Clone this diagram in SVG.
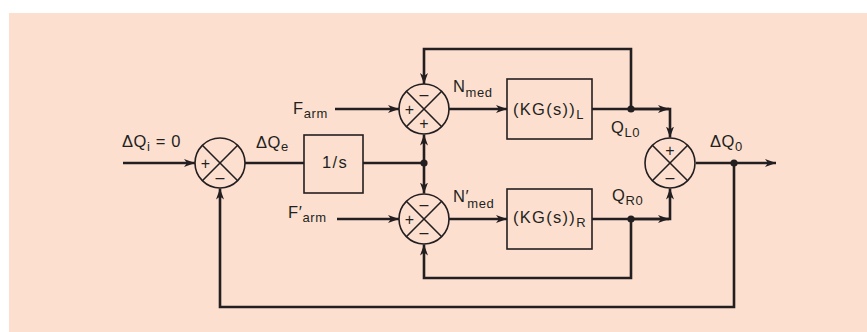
<svg xmlns="http://www.w3.org/2000/svg" width="867" height="332" viewBox="0 0 867 332">
<defs>
<marker id="arr" markerUnits="userSpaceOnUse" markerWidth="12" markerHeight="9" refX="11" refY="4.5" orient="auto">
<path d="M0,0.5 L11,4.5 L0,8.5 L3,4.5 z" fill="#231f20"/>
</marker>
<style>
.bg{fill:#fddfd0}
.wire{fill:none;stroke:#231f20;stroke-width:2.6;stroke-linejoin:miter}
.blk{fill:none;stroke:#231f20;stroke-width:1.6}
.sum{fill:none;stroke:#231f20;stroke-width:1.6}
.dot{fill:#231f20}
text{font-family:"Liberation Sans",Arial,sans-serif;fill:#231f20}
.lbl{font-size:16.5px;letter-spacing:0.6px}
.box{font-size:16.5px;letter-spacing:1.3px}
.sg{font-size:16px;text-anchor:middle}
.sub{font-size:13px}
</style>
</defs>
<rect class="bg" x="9" y="13" width="858" height="319"/>

<g id="connectors">
<line class="wire" x1="123" y1="163" x2="195" y2="163" marker-end="url(#arr)"/>
<line class="wire" x1="245" y1="163" x2="304" y2="163"/>
<line class="wire" x1="363" y1="163" x2="424" y2="163"/>
<line class="wire" x1="424" y1="163" x2="424" y2="134.5" marker-end="url(#arr)"/>
<line class="wire" x1="424" y1="163" x2="424" y2="193.5" marker-end="url(#arr)"/>
<line class="wire" x1="335" y1="109" x2="399" y2="109" marker-end="url(#arr)"/>
<line class="wire" x1="337" y1="219" x2="399" y2="219" marker-end="url(#arr)"/>
<line class="wire" x1="449" y1="109" x2="507" y2="109" marker-end="url(#arr)"/>
<line class="wire" x1="449" y1="219" x2="507" y2="219" marker-end="url(#arr)"/>
<polyline class="wire" points="592,109 670,109 670,137.5" marker-end="url(#arr)"/>
<line class="wire" x1="631" y1="109" x2="669" y2="109" marker-end="url(#arr)"/>
<polyline class="wire" points="631,109 631,49 424,49 424,84" marker-end="url(#arr)"/>
<polyline class="wire" points="592,219 670,219 670,188.5" marker-end="url(#arr)"/>
<line class="wire" x1="631" y1="219" x2="669" y2="219" marker-end="url(#arr)"/>
<polyline class="wire" points="631,219 631,278 424,278 424,244.5" marker-end="url(#arr)"/>
<line class="wire" x1="696" y1="163" x2="776" y2="163" marker-end="url(#arr)"/>
<polyline class="wire" points="734,163 734,307 220,307 220,188.5" marker-end="url(#arr)"/>
<circle class="dot" cx="424" cy="163" r="3.6"/>
<circle class="dot" cx="631" cy="109" r="3.6"/>
<circle class="dot" cx="631" cy="219" r="3.6"/>
<circle class="dot" cx="734" cy="163" r="3.6"/>
</g>

<g id="sum1">
<circle class="sum" cx="220" cy="163" r="25"/>
<line class="sum" x1="202.3" y1="145.3" x2="237.7" y2="180.7"/>
<line class="sum" x1="237.7" y1="145.3" x2="202.3" y2="180.7"/>
<text class="sg" x="205.5" y="168.5">+</text>
<text class="sg" x="220" y="183">–</text>
</g>

<g id="integrator">
<rect class="blk" x="304" y="135" width="59" height="58"/>
<text class="box" x="335" y="168" text-anchor="middle">1/s</text>
</g>

<g id="sumL">
<circle class="sum" cx="424" cy="109" r="25"/>
<line class="sum" x1="406.3" y1="91.3" x2="441.7" y2="126.7"/>
<line class="sum" x1="441.7" y1="91.3" x2="406.3" y2="126.7"/>
<text class="sg" x="424" y="100">–</text>
<text class="sg" x="409.5" y="114.5">+</text>
<text class="sg" x="424" y="129">+</text>
</g>

<g id="sumR">
<circle class="sum" cx="424" cy="219" r="25"/>
<line class="sum" x1="406.3" y1="201.3" x2="441.7" y2="236.7"/>
<line class="sum" x1="441.7" y1="201.3" x2="406.3" y2="236.7"/>
<text class="sg" x="424" y="210">–</text>
<text class="sg" x="409.5" y="224.5">+</text>
<text class="sg" x="424" y="238">–</text>
</g>

<g id="plantL">
<rect class="blk" x="507" y="79" width="85" height="60"/>
<text class="box" x="513" y="115">(KG(s))<tspan class="sub" dy="4">L</tspan></text>
</g>

<g id="plantR">
<rect class="blk" x="507" y="189" width="85" height="60"/>
<text class="box" x="513" y="223">(KG(s))<tspan class="sub" dy="4">R</tspan></text>
</g>

<g id="sumOut">
<circle class="sum" cx="670" cy="163" r="25"/>
<line class="sum" x1="652.3" y1="145.3" x2="687.7" y2="180.7"/>
<line class="sum" x1="687.7" y1="145.3" x2="652.3" y2="180.7"/>
<text class="sg" x="670" y="155.5">+</text>
<text class="sg" x="670" y="183">–</text>
</g>

<g id="labels">
<text class="lbl" x="122" y="147">ΔQ<tspan class="sub" dy="4">i</tspan><tspan dy="-4"> = 0</tspan></text>
<text class="lbl" x="256" y="148">ΔQ<tspan class="sub" dy="3">e</tspan></text>
<text class="lbl" x="293" y="114">F<tspan class="sub" dy="4">arm</tspan></text>
<text class="lbl" x="288" y="218">F′<tspan class="sub" dy="4">arm</tspan></text>
<text class="lbl" x="453" y="92">N<tspan class="sub" dy="5">med</tspan></text>
<text class="lbl" x="453" y="202">N′<tspan class="sub" dy="6" dx="-2">med</tspan></text>
<text class="lbl" x="611" y="133">Q<tspan class="sub" dy="4">L0</tspan></text>
<text class="lbl" x="612" y="201">Q<tspan class="sub" dy="4">R0</tspan></text>
<text class="lbl" x="710" y="147">ΔQ<tspan class="sub" dy="4">0</tspan></text>
</g>
</svg>
